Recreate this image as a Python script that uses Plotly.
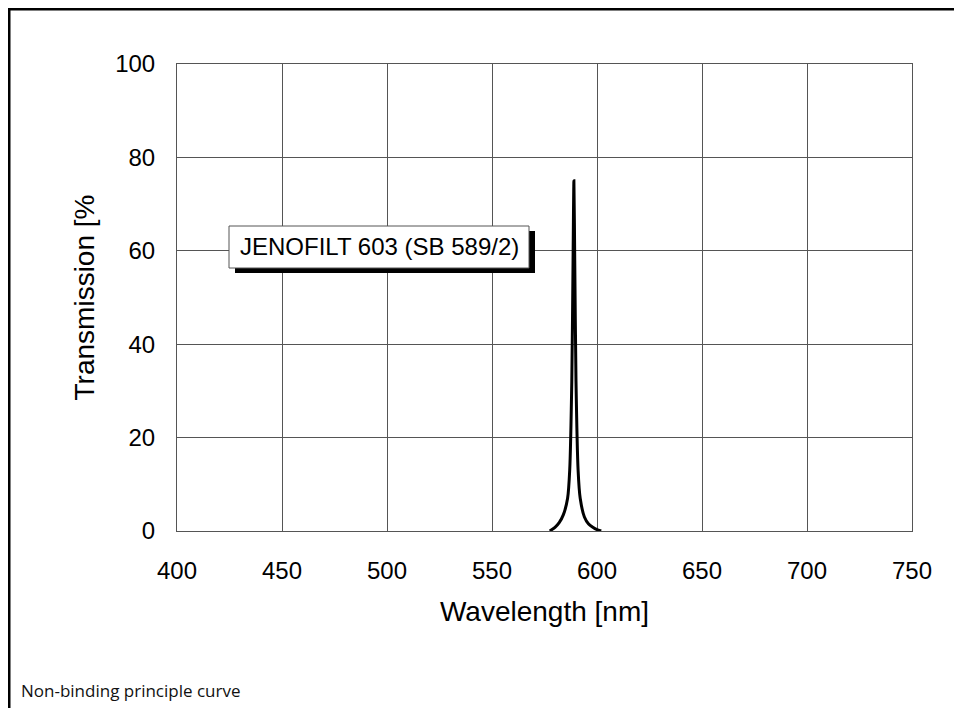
import plotly.graph_objects as go

# Data
wavelength_nm = [577.5, 580, 582, 584, 586, 587, 588, 588.6, 589, 589.4, 590, 591, 592, 594, 596, 598, 600, 602]
transmission_pct = [0, 0.8, 1.8, 3.5, 7, 13, 32, 58, 75, 58, 32, 13, 7, 3, 1.5, 0.8, 0.3, 0]

x_ticks = [400, 450, 500, 550, 600, 650, 700, 750]
y_ticks = [0, 20, 40, 60, 80, 100]

label_text = "JENOFILT 603 (SB 589/2)"
x_title = "Wavelength [nm]"
y_title = "Transmission [%"
footnote = "Non-binding principle curve"

W, H = 962, 708
OFF = 8  # page body margin offset in the screenshot
# plot area in screenshot pixels: x 177..912, y 64..531
L, R = 177 - OFF, W - (912 - OFF)
T, B = 64 - OFF, H - (531 - OFF)
pw, ph = W - L - R, H - T - B

def px(x):
    return (x - OFF - L) / pw

def py(y):
    return (H - B - (y - OFF)) / ph

fig = go.Figure()
fig.add_trace(go.Scatter(
    x=wavelength_nm, y=transmission_pct, mode="lines",
    line=dict(color="black", width=3, shape="spline", smoothing=0.6),
    showlegend=False, hoverinfo="skip"))

tick_font = dict(family="Liberation Sans, Arial, sans-serif", size=24, color="black")
title_font = dict(family="Liberation Sans, Arial, sans-serif", size=28, color="black")
grid = "#555555"

fig.update_xaxes(range=[400, 750], tickvals=x_ticks, showgrid=True, gridcolor=grid, gridwidth=1,
                 showline=True, linecolor=grid, linewidth=1, mirror=True, zeroline=False,
                 ticks="", tickfont=tick_font, ticklabelstandoff=18,
                 title=dict(text=x_title, font=title_font, standoff=18))
fig.update_yaxes(range=[0, 100], tickvals=y_ticks, showgrid=True, gridcolor=grid, gridwidth=1,
                 showline=True, linecolor=grid, linewidth=1, mirror=True, zeroline=False,
                 ticks="", tickfont=tick_font, ticklabelstandoff=16,
                 title=dict(text=y_title, font=title_font, standoff=12))

shapes = [
    # figure frame (extends beyond window on right/bottom)
    dict(type="rect", xref="paper", yref="paper", x0=px(9), x1=px(990), y0=py(740), y1=py(9),
         line=dict(color="black", width=3), fillcolor="rgba(0,0,0,0)", layer="above"),
    # label shadow
    dict(type="rect", xref="paper", yref="paper", x0=px(235), x1=px(535), y0=py(273), y1=py(231),
         line=dict(width=0), fillcolor="black", layer="above"),
    # label box
    dict(type="rect", xref="paper", yref="paper", x0=px(229), x1=px(529), y0=py(268), y1=py(226),
         line=dict(color="#555555", width=1), fillcolor="white", layer="above"),
]

annotations = [
    dict(text=label_text, xref="paper", yref="paper", x=px(379), y=py(247),
         xanchor="center", yanchor="middle", showarrow=False,
         font=dict(family="Liberation Sans, Arial, sans-serif", size=24, color="black")),
    dict(text=footnote, xref="paper", yref="paper", x=px(19), y=py(690),
         xanchor="left", yanchor="middle", showarrow=False,
         font=dict(family="Open Sans, Noto Sans, sans-serif", size=17, color="#111111")),
]

fig.update_layout(width=W, height=H, margin=dict(l=L, r=R, t=T, b=B),
                  paper_bgcolor="white", plot_bgcolor="white",
                  shapes=shapes, annotations=annotations)

fig.write_html("out.html")
